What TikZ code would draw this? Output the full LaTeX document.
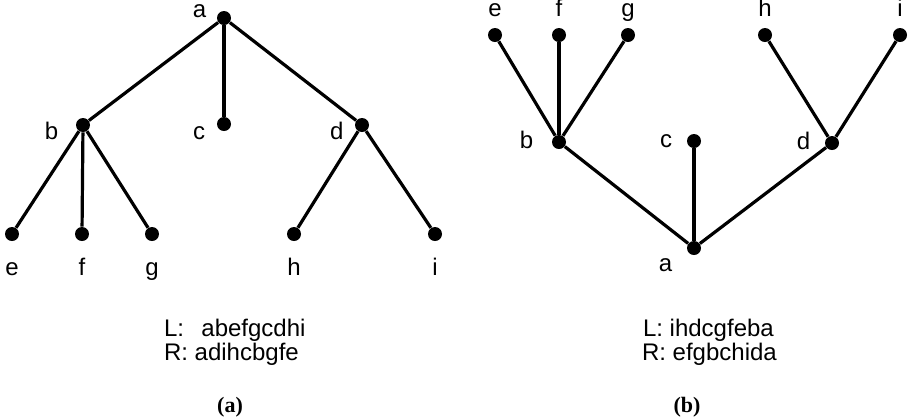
\documentclass[tikz,border=0pt]{standalone}
\usepackage{fontspec}
\setmainfont{Liberation Sans}
\newfontfamily\capfont{Liberation Serif}
\usetikzlibrary{positioning}

\begin{document}
\begin{tikzpicture}[x=0.5pt,y=-0.5pt,font=\fontsize{12}{14}\selectfont,
  vtx/.style={circle,fill,inner sep=0pt,minimum size=7pt},
  edge/.style={line width=1.6pt},
  every label/.style={text height=8pt,text depth=2pt}]
\useasboundingbox (0,0) rectangle (912,419);
% tree (a): root on top
\node[vtx,label={[label distance=1.6pt,yshift=3.5pt]left:a}] (la) at (224,18) {};
\node[vtx,label={[label distance=5.2pt,yshift=-4pt]left:b}] (lb) at (83,125) {};
\node[vtx,label={[label distance=2.2pt,yshift=-4.5pt]left:c}] (lc) at (224,124) {};
\node[vtx,label={[label distance=2pt,yshift=-4pt]left:d}] (ld) at (362,125) {};
\node[vtx,label={[label distance=5.7pt]below:e}] (le) at (12,234) {};
\node[vtx,label={[label distance=5.7pt]below:f}] (lf) at (82,234) {};
\node[vtx,label={[label distance=5.7pt]below:g}] (lg) at (152,234) {};
\node[vtx,label={[label distance=5.7pt]below:h}] (lh) at (294,234) {};
\node[vtx,label={[label distance=5.7pt]below:i}] (li) at (435,234) {};
\foreach \u/\v in {la/lb,la/lc,la/ld,lb/le,lb/lf,lb/lg,ld/lh,ld/li}
  \draw[edge] (\u) -- (\v);
\node[anchor=base west] (lL) at (157,336) {L:\ \ \,abefgcdhi};
\node[anchor=base west] (lR) at (157,360) {R:\ adihcbgfe};
\node[anchor=base,font=\capfont\bfseries\fontsize{11}{13}\selectfont] (capa) at (230,412) {(a)};
% tree (b): root at the bottom
\node[vtx,label={[label distance=3.7pt,yshift=-8.5pt]left:a}] (ra) at (694,248) {};
\node[vtx,label={[label distance=5.7pt]left:b}] (rb) at (559,142) {};
\node[vtx,label={[label distance=3.7pt]left:c}] (rc) at (694,141) {};
\node[vtx,label={[label distance=3.7pt]left:d}] (rd) at (832,143) {};
\node[vtx,label={[label distance=0.2pt]above:e}] (re) at (495,35) {};
\node[vtx,label={[label distance=0.2pt]above:f}] (rf) at (559,35) {};
\node[vtx,label={[label distance=0.2pt]above:g}] (rg) at (628,35) {};
\node[vtx,label={[label distance=0.2pt]above:h}] (rh) at (765,35) {};
\node[vtx,label={[label distance=0.2pt]above:i}] (ri) at (900,35) {};
\foreach \u/\v in {ra/rb,ra/rc,ra/rd,rb/re,rb/rf,rb/rg,rd/rh,rd/ri}
  \draw[edge] (\u) -- (\v);
\node[anchor=base west] (rL) at (636,336) {L:\ ihdcgfeba};
\node[anchor=base west] (rR) at (635,360) {R:\ efgbchida};
\node[anchor=base,font=\capfont\bfseries\fontsize{11}{13}\selectfont] (capb) at (687,412) {(b)};
\end{tikzpicture}
\end{document}
